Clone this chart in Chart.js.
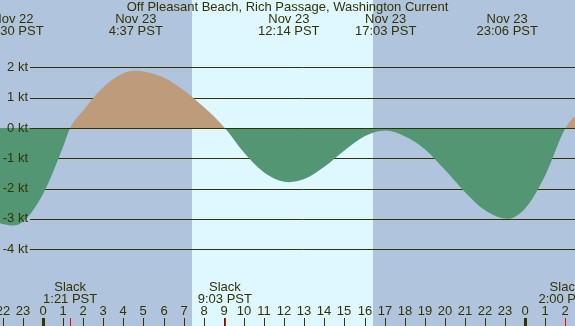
<!DOCTYPE html>
<html>
<head>
<meta charset="utf-8">
<title>Off Pleasant Beach, Rich Passage, Washington Current</title>
<script src="https://cdn.jsdelivr.net/npm/chart.js@4.4.0/dist/chart.umd.min.js"></script>
<style>
  html, body { margin: 0; padding: 0; background: #b0c4de; }
  canvas { display: block; }
</style>
</head>
<body>
<canvas id="chart" width="575" height="326"></canvas>
<script>
// Current data (hours from Nov 23 00:00 PST, speed in knots)
const hours = [-3, -2, -1.5, -1, 0, 1, 1.35, 2, 3, 4, 4.617, 5, 6, 7, 8, 9.05, 10, 11, 12, 12.233,
    13, 14, 15, 16, 17.05, 18, 19, 20, 21, 22, 23.1, 24, 25, 26, 27];
const speeds = [-2.95, -3.17, -3.22, -3.10, -2.18, -0.62, 0, 0.58, 1.35, 1.81, 1.89, 1.87, 1.67, 1.25, 0.69, 0,
    -0.81, -1.47, -1.78, -1.79, -1.69, -1.28, -0.74, -0.27, -0.08, -0.27, -0.70, -1.38, -2.12, -2.72,
    -3.0, -2.65, -1.55, 0, 0.7];

// Max / min current events shown along the top
const peakHours = [-1.5, 4.617, 12.233, 17.05, 23.1];
const peakDates = ['Nov 22', 'Nov 23', 'Nov 23', 'Nov 23', 'Nov 23'];
const peakTimes = ['22:30 PST', '4:37 PST', '12:14 PST', '17:03 PST', '23:06 PST'];

// Slack water events shown along the bottom
const slackHours = [1.35, 9.05, 26.0];
const slackTimes = ['1:21 PST', '9:03 PST', '2:00 PST'];

// Daylight (sunrise / sunset)
const sunrise = 7.4;
const sunset = 16.44;

// Axis ranges and labels
const hourTicks = [];
for (let h = -2; h <= 26; h++) hourTicks.push(h);
const ktTicks = [2, 1, 0, -1, -2, -3, -4];
const xRange = [-2.14, 26.473];
const yRange = [-6.545, 4.231];

const title = 'Off Pleasant Beach, Rich Passage, Washington Current';

const ink = '#333300';
const font = '13px "Liberation Sans", Arial, sans-serif';

const tidePlugin = {
    id: 'tideDecor',
    beforeDraw(chart) {
        const ctx = chart.ctx;
        const x = chart.scales.x;
        ctx.save();
        ctx.fillStyle = '#b0c4de';
        ctx.fillRect(0, 0, chart.width, chart.height);
        const x0 = Math.round(x.getPixelForValue(sunrise));
        const x1 = Math.round(x.getPixelForValue(sunset));
        ctx.fillStyle = '#dff7ff';
        ctx.fillRect(x0, 0, x1 - x0, chart.height);
        ctx.restore();
    },
    beforeDatasetsDraw(chart) {
        const ctx = chart.ctx;
        const y = chart.scales.y;
        ctx.save();
        ctx.strokeStyle = ink;
        ctx.lineWidth = 1;
        ktTicks.forEach(v => {
            const py = Math.round(y.getPixelForValue(v)) + 0.5;
            ctx.beginPath();
            ctx.moveTo(30, py);
            ctx.lineTo(chart.width, py);
            ctx.stroke();
        });
        ctx.restore();
    },
    afterDatasetsDraw(chart) {
        const ctx = chart.ctx;
        const x = chart.scales.x;
        const y = chart.scales.y;
        ctx.save();
        // zero line on top of the fill
        ctx.strokeStyle = ink;
        ctx.lineWidth = 1;
        const py0 = Math.round(y.getPixelForValue(0)) + 0.5;
        ctx.beginPath();
        ctx.moveTo(30, py0);
        ctx.lineTo(chart.width, py0);
        ctx.stroke();

        ctx.fillStyle = ink;
        ctx.font = font;
        ctx.textBaseline = 'middle';

        // y labels
        ctx.textAlign = 'right';
        ktTicks.forEach(v => {
            ctx.fillText(v + ' kt', 28, y.getPixelForValue(v));
        });

        // title and peak labels
        ctx.textAlign = 'center';
        ctx.fillText(title, chart.width / 2, 7);
        peakHours.forEach((h, i) => {
            const px = x.getPixelForValue(h);
            ctx.fillText(peakDates[i], px, 19.5);
            ctx.fillText(peakTimes[i], px, 31.5);
        });

        // slack labels
        slackHours.forEach((h, i) => {
            const px = x.getPixelForValue(h);
            ctx.fillText('Slack', px, 287.5);
            ctx.fillText(slackTimes[i], px, 299.5);
        });

        // hour labels and ticks
        hourTicks.forEach(h => {
            const px = Math.round(x.getPixelForValue(h));
            const label = ((h % 24) + 24) % 24;
            ctx.fillText(String(label), px, 311.5);
            if (label === 0) {
                ctx.fillRect(px - 1, 318, 3, 8);
            } else {
                ctx.fillRect(px, 318, 1, 8);
            }
        });
        ctx.fillStyle = '#ff0000';
        slackHours.forEach(h => {
            const px = Math.round(x.getPixelForValue(h));
            ctx.fillRect(px, 318, 1, 8);
        });
        ctx.restore();
    }
};

new Chart(document.getElementById('chart'), {
    type: 'line',
    data: {
        datasets: [{
            data: hours.map((h, i) => ({ x: h, y: speeds[i] })),
            borderWidth: 0,
            borderColor: 'rgba(0,0,0,0)',
            pointRadius: 0,
            cubicInterpolationMode: 'monotone',
            fill: {
                target: { value: 0 },
                above: '#bd9b7b',
                below: '#529673'
            }
        }]
    },
    options: {
        responsive: false,
        animation: false,
        layout: { padding: 0 },
        plugins: {
            legend: { display: false },
            tooltip: { enabled: false }
        },
        scales: {
            x: { type: 'linear', min: xRange[0], max: xRange[1], display: false },
            y: { type: 'linear', min: yRange[0], max: yRange[1], display: false }
        }
    },
    plugins: [tidePlugin]
});
</script>
</body>
</html>
